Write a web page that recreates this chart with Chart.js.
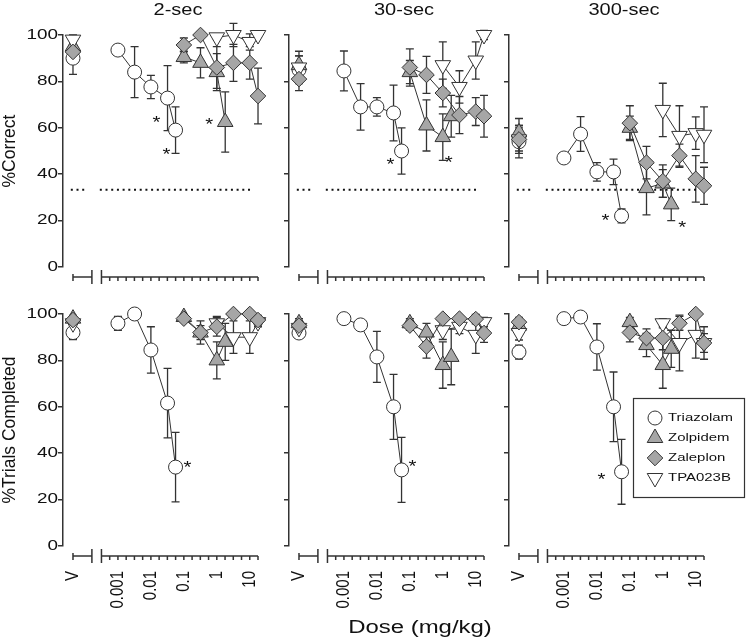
<!DOCTYPE html>
<html>
<head>
<meta charset="utf-8">
<script src="https://cdn.jsdelivr.net/npm/chart.js@4.4.1/dist/chart.umd.min.js"></script>
<style>
    html, body { margin: 0; padding: 0; background: #fff; }
    #wrap { position: relative; width: 746px; height: 641px; }
    #wrap canvas { position: absolute; left: 0; top: 0; }
</style>
</head>
<body>
<div id="wrap"></div>
<script>
// Veriler: her satır bir bekleme süresi (2, 30, 300 sn), ilk değer = vehicle (V)
const delays = ['2-sec', '30-sec', '300-sec'];
const drugNames = ['Triazolam', 'Zolpidem', 'Zaleplon', 'TPA023B'];

const triazolamDoses = [0.001, 0.0032, 0.01, 0.032, 0.056];
const zolpidemDoses = [0.1, 0.32, 1, 1.8];
const zaleplonDoses = [0.1, 0.32, 1, 3.2, 10, 17.8];
const tpaDoses = [1, 3.2, 10, 17.8];

// %Correct
const triazolamCorrect = [
    [90, 93.5, 84, 77.6, 72.8, 59],
    [85, 84.5, 69, 69, 66.4, 50],
    [54, 47, 57.3, 41, 41, 22]
];
const triazolamCorrectSem = [
    [7, 2, 11, 5, 14, 10],
    [6, 8.6, 10, 4, 12, 10],
    [7, 2, 7.5, 4, 5.5, 3]
];
const zolpidemCorrect = [
    [95, 90.5, 88, 84, 62.5],
    [87, 84, 61, 56, 65],
    [58, 60, 34, 36, 27]
];
const zolpidemCorrectSem = [
    [3, 2.5, 6.5, 8, 13],
    [6, 5, 11, 10, 9],
    [6, 5, 11.5, 6, 7]
];
const zaleplonCorrect = [
    [92.7, 95.7, 100, 86, 88, 88, 73.7],
    [81, 86, 82.8, 75, 65.5, 67, 65],
    [55, 62, 45, 37, 48, 38, 35]
];
const zaleplonCorrectSem = [
    [3, 3, 1, 9, 8, 7, 12],
    [5, 8, 8, 6, 8, 6, 9],
    [6, 7.5, 7, 7, 5, 10, 8]
];
const tpaCorrect = [
    [98, 99, 100, 97, 100],
    [86, 87, 77.6, 89, 100],
    [55, 67.7, 56.5, 57.7, 57]
];
const tpaCorrectSem = [
    [2, 1, 5, 3.5, 1],
    [5, 10, 7, 8, 2],
    [5, 11.5, 13, 7, 12]
];

// %Trials Completed
const triazolamTrials = [
    [92, 96, 100, 84.5, 61.6, 34],
    [91.8, 98, 95.3, 81.5, 60, 32.8],
    [83.6, 98, 98.7, 85.8, 60, 32]
];
const triazolamTrialsSem = [
    [3, 3, 1, 10, 15, 15],
    [2, 1, 1, 11, 14, 14],
    [3, 1, 1, 10, 15, 14]
];
const zolpidemTrials = [
    [98, 98.7, 92, 80, 88],
    [96, 96, 92, 78, 81.5],
    [95, 96.5, 86.6, 78, 85]
];
const zolpidemTrialsSem = [
    [1, 1, 3, 8, 8],
    [2, 2, 4, 10, 12],
    [3, 2, 5, 10, 8]
];
const zaleplonTrials = [
    [97.4, 98, 92, 94.5, 100, 100, 97.4],
    [95, 95, 86, 98, 98, 97.8, 91.8],
    [96.5, 92, 89.6, 89.6, 96, 100, 87.5]
];
const zaleplonTrialsSem = [
    [2, 1, 5, 4, 1, 1, 2],
    [2, 2, 5, 1, 1, 2, 4],
    [2, 4, 4, 5, 3, 1, 4]
];
const tpaTrials = [
    [96, 96, 90, 90, 96.5],
    [94, 93, 94.5, 91, 96.5],
    [91.8, 96, 87.5, 91, 87.5]
];
const tpaTrialsSem = [
    [2, 3, 7, 7, 2],
    [3, 4, 3, 8, 2],
    [3, 2, 12, 10, 7]
];

// anlamlı farklar (*): [ilaç, doz sırası] - satır 0 = %Correct, satır 1 = %Trials
const starsCorrect = [[[0, 3], [0, 4], [1, 3]], [[0, 4], [1, 2]], [[0, 4], [1, 3]]];
const starsTrials = [[[0, 4]], [[0, 4]], [[0, 4]]];

const chanceLevel = 100 / 3;
const yTicks = [0, 20, 40, 60, 80, 100];
const xTickValues = [0.001, 0.01, 0.1, 1, 10];
const xTickLabels = ['0.001', '0.01', '0.1', '1', '10'];

// ---- görünüm ----
const FONT = '"Liberation Sans", Arial, Helvetica, sans-serif';
const INK = '#333';
const GRAY = '#a6a6a6';
const COL_X = [63, 289, 509];
const ROW_TOP = [35, 314];
const PLOT_W = 195, PLOT_H = 232;
const X_MIN = Math.pow(10, -4.667), X_MAX = Math.pow(10, 1.25);
const V_AT = Math.pow(10, -4.364);       // vehicle konumu
const BREAK_AT = Math.pow(10, -3.79);    // eksen kırığı
const AXIS_START = Math.pow(10, -3.5);
const CHANCE_SPANS = [[Math.pow(10, -4.43), Math.pow(10, -3.94)], [Math.pow(10, -3.55), Math.pow(10, 1.1)]];
// yıldızların noktaya göre kayması (px)
const STAR_SHIFT_CORRECT = [[[-11, 20], [-9, 20], [-16, -2]], [[-11, 9], [6, 21]], [[-16, 0], [11, 19]]];
const STAR_SHIFT_TRIALS = [[[12, -4]], [[11, -8]], [[-20, 3]]];

const drugStyles = [
    { pointStyle: 'circle', rotation: 0, radius: 7, fill: '#fff', order: 3 },
    { pointStyle: 'triangle', rotation: 0, radius: 9, fill: GRAY, order: 2 },
    { pointStyle: 'rectRot', rotation: 0, radius: 7.8, fill: GRAY, order: 0 },
    { pointStyle: 'triangle', rotation: 180, radius: 9, fill: '#fff', order: 1 }
];
const drugDoses = [triazolamDoses, zolpidemDoses, zaleplonDoses, tpaDoses];
const drugValues = [
    [triazolamCorrect, zolpidemCorrect, zaleplonCorrect, tpaCorrect],
    [triazolamTrials, zolpidemTrials, zaleplonTrials, tpaTrials]
];
const drugSems = [
    [triazolamCorrectSem, zolpidemCorrectSem, zaleplonCorrectSem, tpaCorrectSem],
    [triazolamTrialsSem, zolpidemTrialsSem, zaleplonTrialsSem, tpaTrialsSem]
];

// yazıları biraz yatay genişletilmiş çiz (orijinal şekil gibi)
function drawText(ctx, s, x, y, font, align, base, sx, rot) {
    ctx.save();
    ctx.translate(x, y);
    ctx.scale(sx, 1);
    if (rot) ctx.rotate(rot);
    ctx.font = font;
    ctx.textAlign = align;
    ctx.textBaseline = base;
    ctx.fillStyle = '#111';
    ctx.fillText(s, 0, 0);
    ctx.restore();
}

const errorBars = {
    id: 'errorBars',
    beforeDatasetsDraw(chart) {
        const { ctx, scales: { y } } = chart;
        ctx.save();
        ctx.strokeStyle = INK;
        ctx.lineWidth = 1.3;
        chart.data.datasets.forEach((ds, i) => {
            const meta = chart.getDatasetMeta(i);
            meta.data.forEach((pt, j) => {
                const v = ds.data[j].y, e = ds.sem[j];
                if (!e) return;
                const top = y.getPixelForValue(v + e), bot = y.getPixelForValue(v - e);
                ctx.beginPath();
                ctx.moveTo(pt.x, top); ctx.lineTo(pt.x, bot);
                ctx.moveTo(pt.x - 4, top); ctx.lineTo(pt.x + 4, top);
                ctx.moveTo(pt.x - 4, bot); ctx.lineTo(pt.x + 4, bot);
                ctx.stroke();
            });
        });
        ctx.restore();
    }
};

const chanceLine = {
    id: 'chanceLine',
    beforeDatasetsDraw(chart, args, o) {
        if (!o.show) return;
        const { ctx, scales: { x, y } } = chart;
        const py = y.getPixelForValue(chanceLevel);
        ctx.save();
        ctx.strokeStyle = '#111';
        ctx.lineWidth = 2;
        ctx.setLineDash([2, 3.7]);
        CHANCE_SPANS.forEach(sp => {
            ctx.beginPath();
            ctx.moveTo(x.getPixelForValue(sp[0]), py);
            ctx.lineTo(x.getPixelForValue(sp[1]), py);
            ctx.stroke();
        });
        ctx.restore();
    }
};

const brokenAxis = {
    id: 'brokenAxis',
    afterDraw(chart, args, o) {
        const { ctx, chartArea, scales: { x } } = chart;
        const ay = chartArea.bottom + 10;
        const px = v => x.getPixelForValue(v);
        ctx.save();
        ctx.strokeStyle = INK;
        ctx.lineWidth = 1.5;
        ctx.beginPath();
        ctx.moveTo(px(V_AT), ay); ctx.lineTo(px(BREAK_AT), ay);
        ctx.moveTo(px(V_AT), ay - 3); ctx.lineTo(px(V_AT), ay + 4);
        ctx.moveTo(px(BREAK_AT), ay - 7); ctx.lineTo(px(BREAK_AT), ay + 7);
        ctx.moveTo(px(AXIS_START), ay - 7); ctx.lineTo(px(AXIS_START), ay + 7);
        ctx.moveTo(px(AXIS_START), ay); ctx.lineTo(px(X_MAX), ay);
        for (let k = -14; k <= 5; k++) {
            const t = px(Math.pow(10, k / 4));
            ctx.moveTo(t, ay); ctx.lineTo(t, ay + 4);
        }
        ctx.stroke();
        if (o.labels) {
            const f = '15px ' + FONT;
            drawText(ctx, 'V', px(V_AT), ay + 15, f, 'right', 'middle', 1.2, -Math.PI / 2);
            xTickValues.forEach((v, i) => {
                drawText(ctx, xTickLabels[i], px(v), ay + 15, f, 'right', 'middle', 1.2, -Math.PI / 2);
            });
        }
        ctx.restore();
    }
};

const panelText = {
    id: 'panelText',
    afterDraw(chart, args, o) {
        const { ctx, chartArea, scales: { y } } = chart;
        const { row, col } = o;
        if (row === 0) {
            drawText(ctx, delays[col], chartArea.left + 115, 11, '16px ' + FONT, 'center', 'middle', 1.25);
        }
        if (col === 0) {
            yTicks.forEach(t => {
                drawText(ctx, String(t), chartArea.left - 5, y.getPixelForValue(t), '14px ' + FONT, 'right', 'middle', 1.35);
            });
            drawText(ctx, row === 0 ? '%Correct' : '%Trials Completed', 10, (chartArea.top + chartArea.bottom) / 2,
                '17.5px ' + FONT, 'center', 'middle', 1.0, -Math.PI / 2);
        }
        if (row === 1 && col === 1) {
            drawText(ctx, 'Dose (mg/kg)', 420, 628, '18px ' + FONT, 'center', 'middle', 1.33);
        }
        // yıldızlar
        const stars = row === 0 ? starsCorrect[col] : starsTrials[col];
        const shifts = row === 0 ? STAR_SHIFT_CORRECT[col] : STAR_SHIFT_TRIALS[col];
        stars.forEach((s, i) => {
            const pt = chart.getDatasetMeta(s[0]).data[s[1] + 1];
            drawText(ctx, '*', pt.x + shifts[i][0], pt.y + shifts[i][1] + 10, '17px ' + FONT, 'center', 'alphabetic', 1.2);
        });
        // lejant
        if (row === 1 && col === 2) {
            ctx.save();
            ctx.strokeStyle = INK;
            ctx.lineWidth = 1.2;
            ctx.strokeRect(633.5, 398.5, 111, 99);
            drugNames.forEach((name, k) => {
                const st = drugStyles[k];
                const cy = 418 + 20 * k;
                ctx.fillStyle = st.fill;
                ctx.strokeStyle = INK;
                ctx.lineWidth = 1;
                Chart.helpers.drawPoint(ctx, { pointStyle: st.pointStyle, rotation: st.rotation, radius: st.radius, borderWidth: 1 }, 655, cy);
                drawText(ctx, name, 668, cy, '11.5px ' + FONT, 'left', 'middle', 1.3);
            });
            ctx.restore();
        }
    }
};

function makeDatasets(row, col) {
    return drugNames.map((name, k) => {
        const st = drugStyles[k];
        const vals = drugValues[row][k][col];
        const sems = drugSems[row][k][col];
        const pts = [{ x: V_AT, y: vals[0] }].concat(drugDoses[k].map((d, j) => ({ x: d, y: vals[j + 1] })));
        return {
            label: name,
            data: pts,
            sem: sems,
            showLine: true,
            borderColor: INK,
            borderWidth: 1,
            segment: { borderColor: c => c.p0DataIndex === 0 ? 'rgba(0,0,0,0)' : INK },
            pointStyle: st.pointStyle,
            pointRotation: st.rotation,
            pointRadius: st.radius,
            pointBackgroundColor: st.fill,
            pointBorderColor: INK,
            pointBorderWidth: 1,
            clip: false,
            order: st.order
        };
    });
}

const wrap = document.getElementById('wrap');
[0, 1].forEach(row => {
    [0, 1, 2].forEach(col => {
        const canvas = document.createElement('canvas');
        canvas.width = 746;
        canvas.height = 641;
        wrap.appendChild(canvas);
        const x0 = COL_X[col], top = ROW_TOP[row];
        new Chart(canvas.getContext('2d'), {
            type: 'scatter',
            data: { datasets: makeDatasets(row, col) },
            options: {
                responsive: false,
                animation: false,
                events: [],
                layout: { padding: { left: x0 - 8, top: top, right: 746 - x0 - PLOT_W, bottom: 641 - top - PLOT_H } },
                plugins: {
                    legend: { display: false },
                    tooltip: { enabled: false },
                    chanceLine: { show: row === 0 },
                    brokenAxis: { labels: row === 1 },
                    panelText: { row: row, col: col }
                },
                scales: {
                    x: { type: 'logarithmic', min: X_MIN, max: X_MAX, display: false },
                    y: {
                        min: 0, max: 100,
                        ticks: { stepSize: 20, display: false },
                        grid: { drawOnChartArea: false, drawTicks: true, tickLength: 5, color: INK, lineWidth: 1.5 },
                        border: { display: true, color: INK, width: 1.5 },
                        afterFit: s => { s.width = 8; }
                    }
                }
            },
            plugins: [errorBars, chanceLine, brokenAxis, panelText]
        });
    });
});
</script>
</body>
</html>
